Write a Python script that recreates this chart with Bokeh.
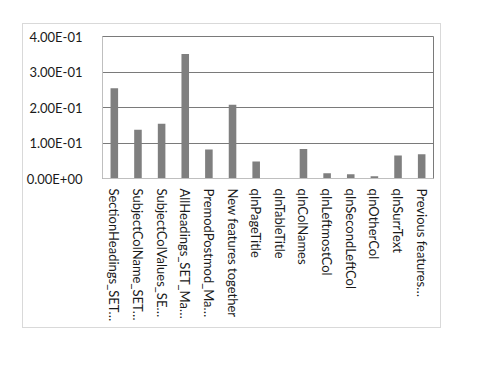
from bokeh.plotting import figure
from bokeh.layouts import column, row
from bokeh.models import FactorRange, CustomJSTickFormatter, FixedTicker, ColumnDataSource, Spacer
from bokeh.embed import file_html
from bokeh.resources import INLINE

categories = [
    "SectionHeadings_SET…", "SubjectColName_SET…", "SubjectColValues_SE…",
    "AllHeadings_SET_Ma…", "PremodPostmod_Ma…", "New features together",
    "qInPageTitle", "qInTableTitle", "qInColNames", "qInLeftmostCol",
    "qInSecondLeftCol", "qInOtherCol", "qInSurrText", "Previous features…",
]
values = [0.254, 0.137, 0.154, 0.351, 0.082, 0.208, 0.048, 0.001, 0.083,
          0.015, 0.012, 0.006, 0.065, 0.068]
y_ticks = [0.0, 0.1, 0.2, 0.3, 0.4]

src = ColumnDataSource(dict(cat=categories, val=values))

FONT = "Lato"

p = figure(
    x_range=FactorRange(*categories, range_padding=0),
    y_range=(0, 0.4),
    width=417, height=303,
    output_backend="svg", toolbar_location=None,
    min_border_left=73, min_border_top=12, min_border_right=7, min_border_bottom=149,
    styles={"outline": "1px solid #d9d9d9"},
)
p.vbar(x="cat", top="val", width=0.32, source=src, color="#7f7f7f", line_color=None)

p.outline_line_color = "#7a7a7a"
p.outline_line_width = 1
p.xgrid.grid_line_color = None
p.ygrid.grid_line_color = "#7a7a7a"
p.ygrid.grid_line_width = 1

p.yaxis.ticker = FixedTicker(ticks=y_ticks)
p.yaxis.formatter = CustomJSTickFormatter(code="""
    const s = tick.toExponential(2).split('e');
    let e = parseInt(s[1]);
    const sign = e < 0 ? '-' : '+';
    e = Math.abs(e);
    const es = e < 10 ? '0' + e : '' + e;
    return s[0] + 'E' + sign + es;
""")
for ax in (p.xaxis, p.yaxis):
    ax.axis_line_color = "#bfbfbf"
    ax.major_tick_line_color = None
    ax.minor_tick_line_color = None
    ax.major_label_text_font = FONT
    ax.major_label_text_font_size = "13px"
    ax.major_label_text_color = "#1a1a1a"
p.yaxis.major_label_standoff = 14
p.xaxis.major_label_orientation = "vertical"
p.xaxis.major_label_standoff = 4

layout = column(Spacer(height=24), row(Spacer(width=23), p))

open("out.html", "w").write(file_html(layout, INLINE))
